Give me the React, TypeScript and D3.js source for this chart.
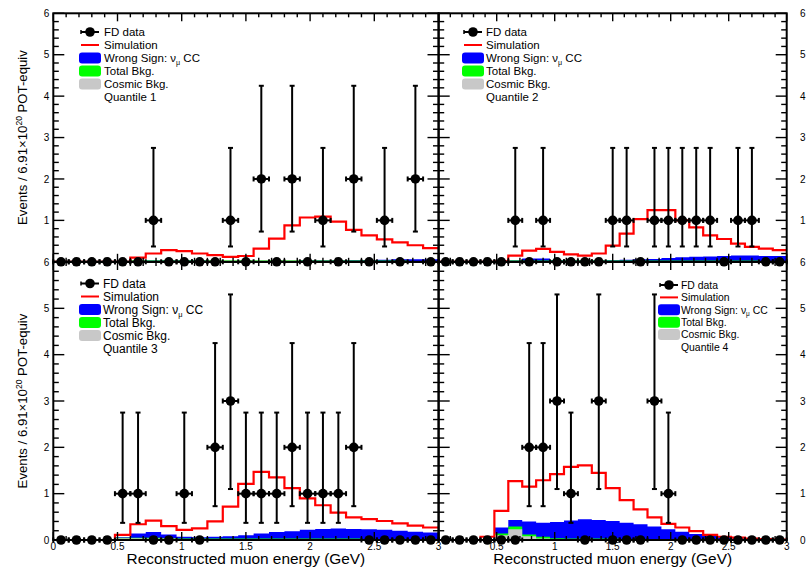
import React from "react";
import * as d3 from "d3";

const W = 806;
const H = 571;
const NBINS = 25;
const EMAX = 3;

// Poisson error bounds, indexed by count
const errLow = [0, 0.37, 0.73, 1.1];
const errHigh = [0, 2.75, 4.25, 5.3];

// Quantile 1 (top-left)
const q1Data = [0,0,0,0,0,0,1,0,0,0,0,1,0,2,0,2,0,1,0,2,0,1,0,2,0];
const q1Sim = [0,0,0,0,0,0.1,0.2,0.28,0.26,0.2,0.16,0.12,0.14,0.32,0.56,0.88,1.07,1.09,0.97,0.77,0.64,0.54,0.47,0.4,0.33];
const q1WS = [0,0,0,0,0,0.02,0.03,0.03,0.03,0.03,0.02,0.02,0.02,0.02,0.02,0.02,0.03,0.03,0.03,0.04,0.04,0.05,0.06,0.06,0.06];
const q1Bkg = [0.01,0.01,0.01,0.01,0.02,0.03,0.03,0.03,0.03,0.03,0.03,0.03,0.03,0.03,0.03,0.03,0.03,0.03,0.03,0.03,0.03,0.03,0.03,0.02,0.02];
const q1Cos = [0.01,0.01,0.01,0.01,0.01,0.02,0.02,0.02,0.02,0.02,0.02,0.02,0.02,0.02,0.02,0.02,0.02,0.02,0.02,0.02,0.02,0.02,0.02,0.02,0.02];

// Quantile 2 (top-right)
const q2Data = [0,0,0,0,0,1,0,1,0,0,0,0,1,1,0,1,1,1,1,1,0,1,1,0,0];
const q2Sim = [0,0,0,0,0.01,0.15,0.27,0.31,0.24,0.18,0.15,0.2,0.39,0.68,1.03,1.25,1.25,1.0,0.83,0.64,0.55,0.44,0.36,0.32,0.28];
const q2WS = [0,0,0,0,0,0.03,0.08,0.08,0.04,0.03,0.03,0.03,0.04,0.05,0.06,0.07,0.09,0.11,0.12,0.13,0.14,0.15,0.15,0.14,0.14];
const q2Bkg = [0.01,0.01,0.01,0.01,0.02,0.03,0.03,0.03,0.03,0.03,0.03,0.03,0.03,0.03,0.03,0.03,0.03,0.03,0.03,0.03,0.03,0.03,0.03,0.02,0.02];
const q2Cos = [0.01,0.01,0.01,0.01,0.01,0.02,0.02,0.02,0.02,0.02,0.02,0.02,0.02,0.02,0.02,0.02,0.02,0.02,0.02,0.02,0.02,0.02,0.02,0.02,0.02];

// Quantile 3 (bottom-left)
const q3Data = [0,0,0,0,1,1,0,0,1,0,2,3,1,1,1,2,1,1,1,2,0,0,0,0,0];
const q3Sim = [0,0,0,0,0.11,0.34,0.42,0.3,0.22,0.25,0.4,0.72,1.21,1.47,1.35,1.12,0.9,0.75,0.59,0.49,0.45,0.41,0.36,0.31,0.27];
const q3WS = [0,0,0,0,0.06,0.14,0.17,0.12,0.07,0.06,0.07,0.08,0.1,0.14,0.17,0.19,0.22,0.24,0.25,0.24,0.23,0.22,0.2,0.18,0.16];
const q3Bkg = [0,0,0,0,0.05,0.05,0.05,0.04,0.03,0.03,0.03,0.03,0.03,0.03,0.03,0.03,0.03,0.03,0.03,0.03,0.02,0.02,0.02,0.02,0.02];
const q3Cos = [0,0,0,0,0.04,0.04,0.03,0.03,0.02,0.02,0.02,0.02,0.02,0.02,0.02,0.02,0.02,0.02,0.02,0.02,0.02,0.02,0.02,0.02,0.02];

// Quantile 4 (bottom-right)
const q4Data = [0,0,0,0,0,0,2,2,3,1,0,3,0,0,0,3,1,0,0,0,0,0,0,0,0];
const q4Sim = [0,0,0,0.07,0.63,1.27,1.15,1.29,1.42,1.58,1.61,1.45,1.12,0.86,0.66,0.49,0.35,0.27,0.19,0.11,0.07,0.05,0.03,0.02,0.01];
const q4WS = [0,0,0,0,0.27,0.43,0.4,0.37,0.39,0.42,0.45,0.43,0.41,0.37,0.34,0.29,0.23,0.18,0.13,0.09,0.06,0.03,0.02,0.01,0.01];
const q4Bkg = [0,0,0,0,0.14,0.29,0.12,0.07,0.04,0.03,0.03,0.03,0.03,0.02,0.02,0.02,0.02,0.01,0.01,0.01,0,0,0,0,0];
const q4Cos = [0,0,0,0,0.1,0.23,0.08,0.03,0.02,0.02,0.02,0.02,0.02,0.01,0.01,0.01,0.01,0.01,0,0,0,0,0,0,0];

const yTicks = [0, 1, 2, 3, 4, 5, 6];
const xTicks = [0, 0.5, 1, 1.5, 2, 2.5, 3];
const legendLabels = ["FD data", "Simulation", "Wrong Sign: ", "Total Bkg.", "Cosmic Bkg."];
const quantileLabels = ["Quantile 1", "Quantile 2", "Quantile 3", "Quantile 4"];

const FONT = "'Liberation Sans', Arial, Helvetica, sans-serif";
const BLUE = "#0000ff";
const GREEN = "#00ff00";
const GRAY = "#c8c8c8";
const RED = "#ff0000";

type Panel = {
  id: number;
  x0: number; x1: number; y0: number; y1: number;
  data: number[]; sim: number[]; ws: number[]; bkg: number[]; cos: number[];
  leg: { mx: number; tx: number; y: number; fs: number; dy: number };
  left: boolean; top: boolean;
};

const panels: Panel[] = [
  { id: 0, x0: 53.3, x1: 438.5, y0: 13.3, y1: 261.8, data: q1Data, sim: q1Sim, ws: q1WS, bkg: q1Bkg, cos: q1Cos,
    leg: { mx: 90, tx: 104, y: 32, fs: 11.5, dy: 13 }, left: true, top: true },
  { id: 1, x0: 438.7, x1: 786.7, y0: 13.3, y1: 261.8, data: q2Data, sim: q2Sim, ws: q2WS, bkg: q2Bkg, cos: q2Cos,
    leg: { mx: 473, tx: 486, y: 32, fs: 11.5, dy: 13 }, left: false, top: true },
  { id: 2, x0: 53.3, x1: 438.5, y0: 262, y1: 540, data: q3Data, sim: q3Sim, ws: q3WS, bkg: q3Bkg, cos: q3Cos,
    leg: { mx: 90, tx: 103, y: 283.5, fs: 12, dy: 13 }, left: true, top: false },
  { id: 3, x0: 438.7, x1: 786.7, y0: 262, y1: 540, data: q4Data, sim: q4Sim, ws: q4WS, bkg: q4Bkg, cos: q4Cos,
    leg: { mx: 669, tx: 681, y: 285, fs: 10.4, dy: 12.4 }, left: false, top: false },
];

function stepPoints(vals: number[]) {
  const pts: [number, number][] = [];
  const bw = EMAX / NBINS;
  for (let i = 0; i < NBINS; i++) pts.push([i * bw, vals[i]]);
  pts.push([EMAX, vals[NBINS - 1]]);
  return pts;
}

function PanelView({ p }: { p: Panel }) {
  const x = d3.scaleLinear().domain([0, EMAX]).range([p.x0, p.x1]);
  const y = d3.scaleLinear().domain([0, 6]).range([p.y1, p.y0]);
  const bw = EMAX / NBINS;
  const area = d3.area<[number, number]>()
    .x(d => x(d[0])).y0(y(0)).y1(d => y(d[1])).curve(d3.curveStepAfter);
  const line = d3.line<[number, number]>()
    .x(d => x(d[0])).y(d => y(d[1])).curve(d3.curveStepAfter);
  const clipId = `clip${p.id}`;
  const minorX = d3.range(0, 31).map(i => i / 10);
  const minorY = d3.range(0, 31).map(i => i / 5);
  const xMaj = 8, xMin = 4, yMaj = 11, yMin = 5.5;
  const L = p.leg;
  const hw = (x(bw) - x(0)) / 2;

  return (
    <g>
      <defs>
        <clipPath id={clipId}>
          <rect x={p.x0} y={p.y0} width={p.x1 - p.x0} height={p.y1 - p.y0} />
        </clipPath>
      </defs>
      <g clipPath={`url(#${clipId})`}>
        <path d={area(stepPoints(p.ws)) || ""} fill={BLUE} />
        <path d={area(stepPoints(p.bkg)) || ""} fill={GREEN} />
        <path d={area(stepPoints(p.cos)) || ""} fill={GRAY} />
        <path d={line(stepPoints(p.sim)) || ""} fill="none" stroke={RED} strokeWidth={2.2} />
      </g>
      {/* ticks */}
      <g stroke="#000" strokeWidth={1.4}>
        {minorX.map((v, i) => {
          const len = Math.abs(v * 2 - Math.round(v * 2)) < 1e-6 ? xMaj : xMin;
          return (
            <g key={`xt${i}`}>
              <line x1={x(v)} x2={x(v)} y1={p.y1} y2={p.y1 - len} />
              <line x1={x(v)} x2={x(v)} y1={p.y0} y2={p.y0 + len} />
            </g>
          );
        })}
        {minorY.map((v, i) => {
          const len = Math.abs(v - Math.round(v)) < 1e-6 ? yMaj : yMin;
          return (
            <g key={`yt${i}`}>
              <line x1={p.x0} x2={p.x0 + len} y1={y(v)} y2={y(v)} />
              <line x1={p.x1} x2={p.x1 - len} y1={y(v)} y2={y(v)} />
            </g>
          );
        })}
      </g>
      <rect x={p.x0} y={p.y0} width={p.x1 - p.x0} height={p.y1 - p.y0} fill="none" stroke="#000" strokeWidth={2} />
      {/* data */}
      <g>
        {p.data.map((n, i) => {
          const cx = x((i + 0.5) * bw);
          const cy = y(n);
          return (
            <g key={`d${i}`} stroke="#000" strokeWidth={2}>
              {n > 0 && (
                <>
                  <line x1={cx} x2={cx} y1={y(errLow[n])} y2={y(errHigh[n])} />
                  <line x1={cx - 2.5} x2={cx + 2.5} y1={y(errLow[n])} y2={y(errLow[n])} />
                  <line x1={cx - 2.5} x2={cx + 2.5} y1={y(errHigh[n])} y2={y(errHigh[n])} />
                </>
              )}
              <line x1={cx - hw} x2={cx + hw} y1={cy} y2={cy} />
              <line x1={cx - hw} x2={cx - hw} y1={cy - 2.5} y2={cy + 2.5} />
              <line x1={cx + hw} x2={cx + hw} y1={cy - 2.5} y2={cy + 2.5} />
              <circle cx={cx} cy={cy} r={4.8} fill="#000" stroke="none" />
            </g>
          );
        })}
      </g>
      {/* legend */}
      <g fontFamily={FONT} fontSize={L.fs} fill="#000">
        <line x1={L.mx - 9} x2={L.mx + 9} y1={L.y} y2={L.y} stroke="#000" strokeWidth={2} />
        <line x1={L.mx - 9} x2={L.mx - 9} y1={L.y - 2} y2={L.y + 2} stroke="#000" strokeWidth={1.5} />
        <circle cx={L.mx} cy={L.y} r={4.8} fill="#000" />
        <line x1={L.mx - 9} x2={L.mx + 9} y1={L.y + L.dy} y2={L.y + L.dy} stroke={RED} strokeWidth={2} />
        {[BLUE, GREEN, GRAY].map((c, k) => (
          <rect key={`lb${k}`} x={L.mx - 11} y={L.y + L.dy * (k + 2) - 5.5} width={22} height={11} rx={3}
            fill={c} />
        ))}
        {legendLabels.map((t, k) => (
          <text key={`lt${k}`} x={L.tx} y={L.y + L.dy * k + L.fs * 0.36}>
            {t}
            {k === 2 && (
              <>
                <tspan>ν</tspan>
                <tspan fontSize={L.fs * 0.62} dy={L.fs * 0.25}>μ</tspan>
                <tspan dy={-L.fs * 0.25}> CC</tspan>
              </>
            )}
          </text>
        ))}
        <text x={L.tx} y={L.y + L.dy * 5 + L.fs * 0.36}>{quantileLabels[p.id]}</text>
      </g>
      {/* axis labels */}
      <g fontFamily={FONT} fontSize={10} fill="#000">
        {yTicks.filter(v => !(p.top && v === 0)).map(v => (
          p.left ? (
            <text key={`yl${v}`} x={p.x0 - 4} y={y(v) + 3.6} textAnchor="end">{v}</text>
          ) : (
            <text key={`yl${v}`} x={800} y={y(v) + 3.6} textAnchor="start">{v}</text>
          )
        ))}
        {!p.top && xTicks.filter(v => p.left || v > 0).map(v => (
          <text key={`xl${v}`} x={x(v)} y={p.y1 + 9.5} textAnchor="middle">{v}</text>
        ))}
      </g>
      {!p.top && (
        <text x={(p.x0 + p.x1) / 2} y={564} textAnchor="middle" fontFamily={FONT} fontSize={15.4}>
          Reconstructed muon energy (GeV)
        </text>
      )}
      {p.left && (
        <text transform={`translate(27,${(p.y0 + p.y1) / 2}) rotate(-90)`} textAnchor="middle" fontFamily={FONT} fontSize={13.2}>
          Events / 6.91×10<tspan fontSize={8.5} dy={-5.5}>20</tspan><tspan dy={5.5}> POT-equiv</tspan>
        </text>
      )}
    </g>
  );
}

export default function App() {
  const order = [0, 1, 2, 3];
  return (
    <svg width={W} height={H} viewBox={`0 0 ${W} ${H}`} style={{ position: "absolute", left: 0, top: 0, background: "#fff" }}>
      <rect width={W} height={H} fill="#fff" />
      {order.map(i => <PanelView key={i} p={panels[i]} />)}
    </svg>
  );
}
